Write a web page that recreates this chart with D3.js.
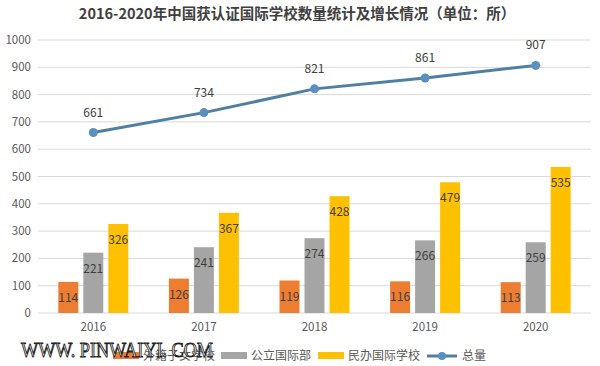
<!DOCTYPE html>
<html><head><meta charset="utf-8">
<script src="https://cdn.jsdelivr.net/npm/d3@7/dist/d3.min.js"></script>
<style>body{margin:0;background:#fff}svg{display:block}</style>
</head><body>
<svg id="c" width="600" height="366"></svg>
<script>
const years = ["2016","2017","2018","2019","2020"];
const foreignSchools = [114,126,119,116,113];
const publicIntl = [221,241,274,266,259];
const privateIntl = [326,367,428,479,535];
const totals = [661,734,821,861,907];
const seriesNames = ["外籍子女学校","公立国际部","民办国际学校"];
const totalName = "总量";
const yTicks = [0,100,200,300,400,500,600,700,800,900,1000];
const title = "2016-2020年中国获认证国际学校数量统计及增长情况（单位：所）";

const colors = ["#ed7d31","#a5a5a5","#ffc000"];
const lineColor = "#4f7fa3", dotColor = "#5b8fbf";
const svg = d3.select("#c");
const font = "'Noto Sans CJK SC','Noto Sans',sans-serif";

const x = d3.scaleBand().domain(years).range([38,591]);
const y = d3.scaleLinear().domain([0,1000]).range([313,40]);
const x1 = d3.scaleBand().domain([0,1,2]).range([0,70]).paddingInner(0.2);

svg.append("text").attr("x",297).attr("y",19).attr("text-anchor","middle")
  .attr("font-family",font).attr("font-weight","bold").attr("font-size",14.5)
  .attr("fill","#404040").text(title);

// grid
svg.append("g").selectAll("line").data(yTicks).join("line")
  .attr("x1",38).attr("x2",591).attr("y1",d=>y(d)).attr("y2",d=>y(d))
  .attr("stroke","#d9d9d9").attr("stroke-width",1);
svg.append("g").selectAll("text").data(yTicks).join("text")
  .attr("x",31).attr("y",d=>y(d)+4).attr("text-anchor","end")
  .attr("font-family",font).attr("font-size",11.5).attr("fill","#595959").text(d=>d);

// x labels
svg.append("g").selectAll("text").data(years).join("text")
  .attr("x",d=>x(d)+x.bandwidth()/2).attr("y",331).attr("text-anchor","middle")
  .attr("font-family",font).attr("font-size",11.5).attr("fill","#595959").text(d=>d);

const series = [foreignSchools, publicIntl, privateIntl];
series.forEach((vals,si)=>{
  const g = svg.append("g");
  g.selectAll("rect").data(vals).join("rect")
    .attr("x",(d,i)=>x(years[i])+x.bandwidth()/2-35+x1(si))
    .attr("width",x1.bandwidth())
    .attr("y",d=>y(d)).attr("height",d=>y(0)-y(d))
    .attr("fill",colors[si]);
  g.selectAll("text").data(vals).join("text")
    .attr("x",(d,i)=>x(years[i])+x.bandwidth()/2-35+x1(si)+x1.bandwidth()/2)
    .attr("y",d=>y(d)+20).attr("text-anchor","middle")
    .attr("font-family",font).attr("font-size",12).attr("fill","#404040").text(d=>d);
});

// line
const cx = i=>x(years[i])+x.bandwidth()/2;
svg.append("path").datum(totals)
  .attr("d",d3.line().x((d,i)=>cx(i)).y(d=>y(d)))
  .attr("fill","none").attr("stroke",lineColor).attr("stroke-width",3);
svg.append("g").selectAll("circle").data(totals).join("circle")
  .attr("cx",(d,i)=>cx(i)).attr("cy",d=>y(d)).attr("r",4.5).attr("fill",dotColor);
svg.append("g").selectAll("text").data(totals).join("text")
  .attr("x",(d,i)=>cx(i)).attr("y",d=>y(d)-16).attr("text-anchor","middle")
  .attr("font-family",font).attr("font-size",12).attr("fill","#404040").text(d=>d);

// legend
const leg = svg.append("g").attr("font-family",font).attr("font-size",12).attr("fill","#595959");
const legX = [113,221,318];
seriesNames.forEach((n,i)=>{
  leg.append("rect").attr("x",legX[i]).attr("y",352).attr("width",26).attr("height",7).attr("fill",colors[i]);
  leg.append("text").attr("x",legX[i]+30).attr("y",360).text(n);
});
leg.append("line").attr("x1",427).attr("x2",457).attr("y1",356).attr("y2",356).attr("stroke",lineColor).attr("stroke-width",3);
leg.append("circle").attr("cx",442).attr("cy",356).attr("r",4).attr("fill",dotColor);
leg.append("text").attr("x",462).attr("y",360).text(totalName);

// watermark
svg.append("text").attr("x",21).attr("y",357)
  .attr("font-family","'Liberation Serif',serif").attr("font-size",22)
  .attr("textLength",192).attr("lengthAdjust","spacingAndGlyphs")
  .attr("fill","#fff").attr("stroke","#222").attr("stroke-width",1)
  .text("WWW. PINWAIYI. COM");
</script>
</body></html>
